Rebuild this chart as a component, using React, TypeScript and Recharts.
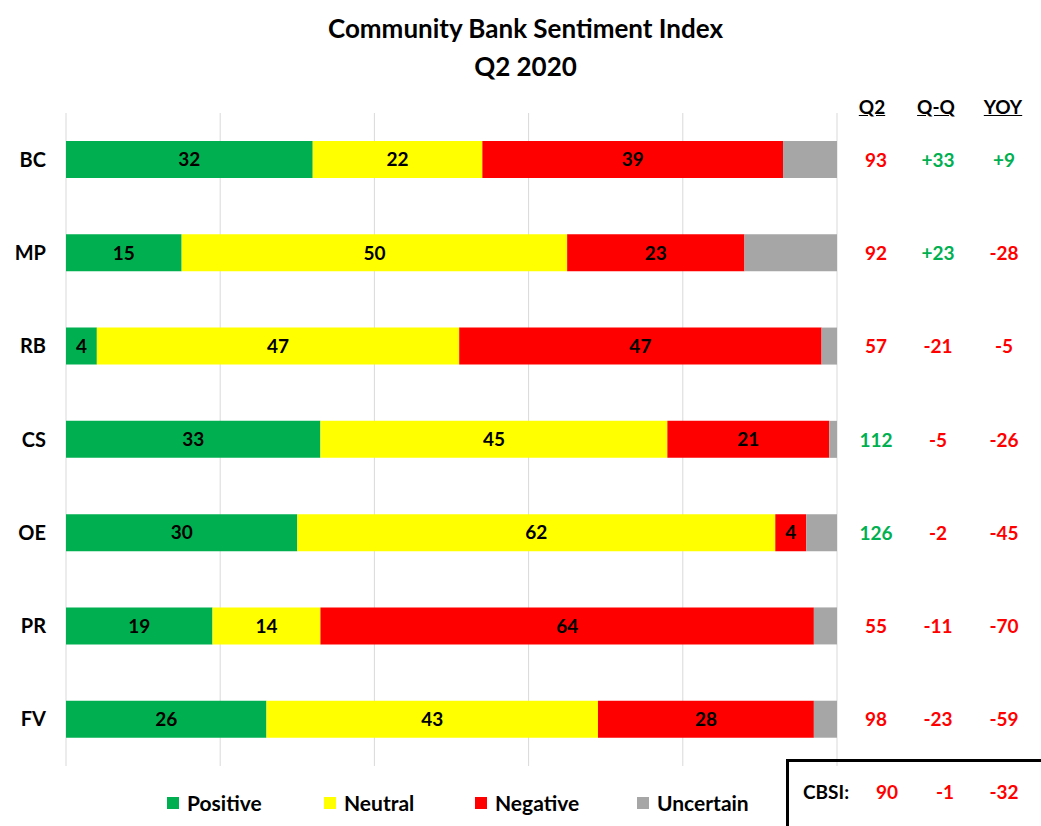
import React from 'react';
import { BarChart, Bar, XAxis, YAxis, CartesianGrid, LabelList } from 'recharts';

const categories = ['BC', 'MP', 'RB', 'CS', 'OE', 'PR', 'FV'];
const positive = [32, 15, 4, 33, 30, 19, 26];
const neutral = [22, 50, 47, 45, 62, 14, 43];
const negative = [39, 23, 47, 21, 4, 64, 28];
const uncertain = [7, 12, 2, 1, 4, 3, 3];
const q2 = [93, 92, 57, 112, 126, 55, 98];
const qq = ['+33', '+23', '-21', '-5', '-2', '-11', '-23'];
const yoy = ['+9', '-28', '-5', '-26', '-45', '-70', '-59'];
const xTicks = [0, 20, 40, 60, 80, 100];
const seriesNames = ['Positive', 'Neutral', 'Negative', 'Uncertain'];
const cbsi = ['90', '-1', '-32'];

const GREEN = '#00b050';
const YELLOW = '#ffff00';
const RED = '#ff0000';
const GRAY = '#a6a6a6';
const FONT = 'Lato, "Open Sans", sans-serif';

const data = categories.map((name, i) => ({
  name,
  Positive: positive[i],
  Neutral: neutral[i],
  Negative: negative[i],
  Uncertain: uncertain[i],
  q2: q2[i],
  qq: qq[i],
  yoy: yoy[i],
}));

const colors = [GREEN, YELLOW, RED, GRAY];

const LeftTick = (props: any) => {
  const { y, payload } = props;
  return (
    <text x={46} y={y} dy={7} textAnchor="end" fontFamily={FONT} fontWeight={700} fontSize={20} fill="#000">
      {payload.value}
    </text>
  );
};

const signColor = (s: string) => (s.startsWith('+') ? GREEN : RED);

const RightTick = (props: any) => {
  const { y, payload } = props;
  const row = data.find((d) => d.name === payload.value);
  if (!row) return null;
  return (
    <g fontFamily={FONT} fontWeight={700} fontSize={19}>
      <text x={876} y={y} dy={7} textAnchor="middle" fill={row.q2 > 100 ? GREEN : RED}>{row.q2}</text>
      <text x={938} y={y} dy={7} textAnchor="middle" fill={signColor(row.qq)}>{row.qq}</text>
      <text x={1004} y={y} dy={7} textAnchor="middle" fill={signColor(row.yoy)}>{row.yoy}</text>
    </g>
  );
};

const headStyle: React.CSSProperties = {
  position: 'absolute',
  top: 95,
  fontFamily: FONT,
  fontWeight: 700,
  fontSize: 19,
  lineHeight: '24px',
  textDecoration: 'underline',
  transform: 'translateX(-50%)',
  color: '#000',
};

const legendSquareX = [167, 324, 475, 637];

export default function App() {
  return (
    <div style={{ position: 'absolute', left: 0, top: 0, width: 1041, height: 826, overflow: 'hidden', background: '#fff' }}>
      <div style={{ position: 'absolute', left: 0, width: 1051, top: 9, textAlign: 'center', fontFamily: FONT, fontWeight: 700, fontSize: 26, lineHeight: '38px', color: '#000' }}>
        Community Bank Sentiment Index
        <br />
        Q2 2020
      </div>
      <BarChart
        width={1041}
        height={826}
        data={data}
        layout="vertical"
        margin={{ top: 113, right: 0, bottom: 60, left: 0 }}
        barSize={37}
      >
        <CartesianGrid vertical horizontal={false} stroke="#d9d9d9" />
        <XAxis type="number" domain={[0, 100]} ticks={xTicks} hide />
        <YAxis yAxisId="left" type="category" dataKey="name" width={66} axisLine={false} tickLine={false} tick={<LeftTick />} />
        <YAxis yAxisId="right" orientation="right" type="category" dataKey="name" width={204} axisLine={false} tickLine={false} tick={<RightTick />} />
        {seriesNames.map((s, i) => (
          <Bar key={s} yAxisId="left" dataKey={s} stackId="a" fill={colors[i]} isAnimationActive={false}>
            {s !== 'Uncertain' && (
              <LabelList dataKey={s} position="center" fill="#000" fontFamily={FONT} fontWeight={700} fontSize={19} />
            )}
          </Bar>
        ))}
      </BarChart>
      <div style={{ ...headStyle, left: 872 }}>Q2</div>
      <div style={{ ...headStyle, left: 936 }}>Q-Q</div>
      <div style={{ ...headStyle, left: 1003 }}>YOY</div>
      {seriesNames.map((s, i) => (
        <div key={s} style={{ position: 'absolute', top: 790, left: legendSquareX[i], display: 'flex', alignItems: 'center', fontFamily: FONT, fontWeight: 700, fontSize: 21, lineHeight: '26px', color: '#000' }}>
          <div style={{ width: 12, height: 12, background: colors[i], marginRight: 8 }} />
          <span>{s}</span>
        </div>
      ))}
      <div style={{ position: 'absolute', left: 786, top: 759, width: 280, height: 90, border: '3px solid #000', boxSizing: 'border-box' }} />
      <div style={{ position: 'absolute', top: 780, left: 803, fontFamily: FONT, fontWeight: 700, fontSize: 19, lineHeight: '24px', color: '#000' }}>CBSI:</div>
      {cbsi.map((v, i) => (
        <div key={i} style={{ position: 'absolute', top: 780, left: [887, 945, 1004][i], transform: 'translateX(-50%)', fontFamily: FONT, fontWeight: 700, fontSize: 19, lineHeight: '24px', color: RED }}>
          {v}
        </div>
      ))}
    </div>
  );
}
